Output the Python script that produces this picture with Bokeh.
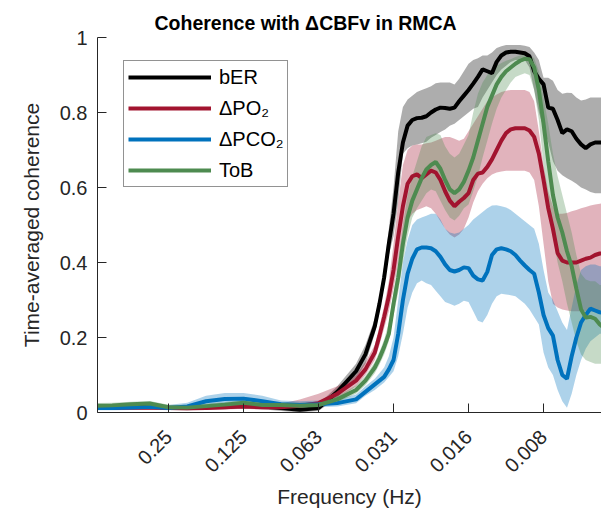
import math
from bokeh.plotting import figure
from bokeh.models import Range1d, FixedTicker, Legend, LegendItem
from bokeh.embed import file_html
from bokeh.resources import INLINE

# x positions, in octaves below 1 Hz (f = 2**-octave)
octave = [1.0, 1.25, 1.5, 1.75, 2.0, 2.25, 2.5, 2.75, 3.0, 3.25, 3.5, 3.75, 4.0, 4.25, 4.5, 4.625,
          4.75, 4.8125, 4.875, 4.9375,
          5.0, 5.0625, 5.125, 5.1875, 5.25, 5.3125, 5.375, 5.4375, 5.5, 5.5625, 5.625, 5.6875, 5.75, 5.8125, 5.875, 5.9375,
          6.0, 6.0625, 6.125, 6.1875, 6.25, 6.3125, 6.375, 6.4375, 6.5, 6.5625, 6.625, 6.6875, 6.75, 6.8125, 6.875, 6.9375,
          7.0, 7.0625, 7.125, 7.1875, 7.25, 7.3125, 7.375, 7.4375, 7.5, 7.5625, 7.625, 7.6875, 7.75, 7.8125]
freq_hz = [2.0 ** -o for o in octave]

ber_mean = [0.015, 0.015, 0.016, 0.016, 0.013, 0.012, 0.014, 0.016, 0.020, 0.016, 0.012, 0.007, 0.012, 0.055, 0.110, 0.155,
            0.23, 0.29, 0.36, 0.45,
            0.53, 0.64, 0.72, 0.765, 0.78, 0.785, 0.786, 0.79, 0.80, 0.808, 0.813, 0.812, 0.81, 0.813, 0.83, 0.845,
            0.86, 0.877, 0.895, 0.915, 0.91, 0.905, 0.935, 0.952, 0.96, 0.962, 0.962, 0.96, 0.958, 0.95, 0.91, 0.89,
            0.875, 0.813, 0.81, 0.78, 0.745, 0.755, 0.75, 0.73, 0.715, 0.705, 0.715, 0.72, 0.72, 0.72]
ber_lo = [0.009, 0.009, 0.010, 0.010, 0.007, 0.006, 0.008, 0.009, 0.012, 0.009, 0.004, 0.000, 0.004, 0.040, 0.090, 0.130,
          0.21, 0.27, 0.34, 0.42,
          0.47, 0.56, 0.69, 0.705, 0.712, 0.715, 0.718, 0.722, 0.733, 0.74, 0.748, 0.755, 0.765, 0.77, 0.78, 0.79,
          0.80, 0.81, 0.815, 0.84, 0.86, 0.88, 0.90, 0.915, 0.925, 0.935, 0.94, 0.94, 0.94, 0.92, 0.86, 0.80,
          0.76, 0.72, 0.67, 0.645, 0.633, 0.625, 0.618, 0.61, 0.60, 0.595, 0.588, 0.585, 0.585, 0.585]
ber_hi = [0.021, 0.021, 0.022, 0.022, 0.019, 0.018, 0.020, 0.023, 0.028, 0.023, 0.020, 0.015, 0.022, 0.070, 0.130, 0.180,
          0.25, 0.31, 0.39, 0.49,
          0.60, 0.75, 0.815, 0.835, 0.845, 0.855, 0.86, 0.865, 0.87, 0.878, 0.88, 0.88, 0.88, 0.875, 0.89, 0.91,
          0.93, 0.94, 0.945, 0.952, 0.952, 0.96, 0.972, 0.977, 0.98, 0.98, 0.98, 0.98, 0.978, 0.975, 0.96, 0.94,
          0.893, 0.893, 0.885, 0.86, 0.85, 0.853, 0.852, 0.84, 0.832, 0.835, 0.84, 0.84, 0.84, 0.84]

po2_mean = [0.012, 0.012, 0.013, 0.013, 0.012, 0.011, 0.012, 0.014, 0.016, 0.014, 0.014, 0.018, 0.025, 0.050, 0.085, 0.115,
            0.16, 0.205, 0.255, 0.31,
            0.38, 0.47, 0.55, 0.61, 0.63, 0.635, 0.625, 0.635, 0.645, 0.64, 0.62, 0.59, 0.565, 0.55, 0.562, 0.572,
            0.585, 0.62, 0.637, 0.64, 0.655, 0.675, 0.70, 0.725, 0.745, 0.755, 0.758, 0.758, 0.758, 0.752, 0.735, 0.69,
            0.62, 0.545, 0.49, 0.425, 0.405, 0.40, 0.40, 0.40, 0.405, 0.41, 0.413, 0.42, 0.424, 0.425]
po2_lo = [0.007, 0.007, 0.008, 0.008, 0.007, 0.006, 0.007, 0.008, 0.010, 0.008, 0.008, 0.008, 0.012, 0.035, 0.070, 0.100,
          0.14, 0.18, 0.225, 0.27,
          0.33, 0.40, 0.47, 0.51, 0.53, 0.54, 0.545, 0.55, 0.545, 0.53, 0.51, 0.49, 0.475, 0.467, 0.475, 0.49,
          0.52, 0.56, 0.59, 0.61, 0.625, 0.635, 0.64, 0.643, 0.645, 0.645, 0.645, 0.645, 0.645, 0.64, 0.62, 0.55,
          0.45, 0.35, 0.29, 0.28, 0.275, 0.272, 0.27, 0.27, 0.27, 0.27, 0.27, 0.27, 0.27, 0.27]
po2_hi = [0.018, 0.018, 0.019, 0.019, 0.018, 0.017, 0.018, 0.020, 0.024, 0.022, 0.024, 0.035, 0.050, 0.070, 0.100, 0.135,
          0.18, 0.23, 0.285, 0.35,
          0.45, 0.56, 0.66, 0.70, 0.712, 0.715, 0.715, 0.718, 0.72, 0.725, 0.73, 0.735, 0.735, 0.73, 0.725, 0.73,
          0.75, 0.77, 0.79, 0.81, 0.83, 0.84, 0.848, 0.855, 0.858, 0.86, 0.86, 0.86, 0.86, 0.855, 0.83, 0.75,
          0.66, 0.59, 0.55, 0.53, 0.53, 0.532, 0.537, 0.54, 0.545, 0.548, 0.552, 0.555, 0.557, 0.558]

pco2_mean = [0.012, 0.012, 0.013, 0.015, 0.012, 0.016, 0.030, 0.036, 0.037, 0.030, 0.022, 0.020, 0.022, 0.025, 0.035, 0.055,
             0.075, 0.085, 0.095, 0.115,
             0.14, 0.21, 0.30, 0.37, 0.41, 0.435, 0.44, 0.44, 0.438, 0.43, 0.415, 0.395, 0.38, 0.376, 0.38, 0.387,
             0.385, 0.365, 0.355, 0.352, 0.375, 0.42, 0.435, 0.438, 0.435, 0.43, 0.42, 0.405, 0.392, 0.38, 0.37, 0.32,
             0.26, 0.225, 0.205, 0.14, 0.10, 0.09, 0.15, 0.20, 0.24, 0.26, 0.277, 0.272, 0.267, 0.265]
pco2_lo = [0.006, 0.006, 0.007, 0.008, 0.006, 0.009, 0.020, 0.024, 0.025, 0.020, 0.014, 0.012, 0.014, 0.016, 0.025, 0.045,
           0.06, 0.07, 0.08, 0.095,
           0.11, 0.15, 0.21, 0.28, 0.32, 0.345, 0.352, 0.345, 0.34, 0.325, 0.31, 0.295, 0.29, 0.285, 0.29, 0.298,
           0.295, 0.27, 0.245, 0.24, 0.26, 0.29, 0.31, 0.317, 0.315, 0.313, 0.31, 0.30, 0.29, 0.275, 0.255, 0.235,
           0.16, 0.12, 0.10, 0.06, 0.03, 0.013, 0.05, 0.10, 0.14, 0.17, 0.19, 0.20, 0.21, 0.21]
pco2_hi = [0.020, 0.020, 0.021, 0.023, 0.020, 0.026, 0.045, 0.052, 0.052, 0.045, 0.032, 0.030, 0.032, 0.035, 0.048, 0.070,
           0.09, 0.105, 0.12, 0.15,
           0.20, 0.30, 0.40, 0.46, 0.50, 0.515, 0.52, 0.525, 0.53, 0.53, 0.515, 0.49, 0.48, 0.477, 0.48, 0.49,
           0.50, 0.515, 0.525, 0.535, 0.545, 0.552, 0.553, 0.55, 0.547, 0.54, 0.53, 0.52, 0.51, 0.50, 0.49, 0.45,
           0.38, 0.32, 0.30, 0.27, 0.24, 0.22, 0.28, 0.34, 0.38, 0.39, 0.395, 0.395, 0.39, 0.39]

tob_mean = [0.018, 0.019, 0.022, 0.024, 0.014, 0.013, 0.017, 0.021, 0.026, 0.020, 0.020, 0.018, 0.020, 0.035, 0.060, 0.085,
            0.12, 0.145, 0.175, 0.21,
            0.29, 0.36, 0.45, 0.52, 0.565, 0.595, 0.625, 0.648, 0.66, 0.668, 0.65, 0.62, 0.595, 0.585, 0.595, 0.615,
            0.645, 0.68, 0.725, 0.77, 0.815, 0.845, 0.875, 0.895, 0.91, 0.92, 0.93, 0.938, 0.943, 0.942, 0.92, 0.86,
            0.77, 0.67, 0.58, 0.52, 0.48, 0.43, 0.39, 0.33, 0.275, 0.253, 0.255, 0.25, 0.235, 0.225]
tob_lo = [0.012, 0.013, 0.016, 0.018, 0.008, 0.007, 0.011, 0.015, 0.020, 0.014, 0.014, 0.012, 0.014, 0.027, 0.050, 0.073,
          0.105, 0.128, 0.155, 0.19,
          0.26, 0.32, 0.40, 0.47, 0.52, 0.545, 0.565, 0.585, 0.595, 0.59, 0.565, 0.54, 0.52, 0.512, 0.525, 0.545,
          0.555, 0.59, 0.63, 0.68, 0.725, 0.77, 0.81, 0.84, 0.86, 0.88, 0.895, 0.90, 0.905, 0.90, 0.86, 0.78,
          0.66, 0.56, 0.47, 0.40, 0.35, 0.29, 0.24, 0.19, 0.155, 0.14, 0.135, 0.13, 0.13, 0.13]
tob_hi = [0.025, 0.026, 0.029, 0.031, 0.021, 0.020, 0.024, 0.028, 0.034, 0.028, 0.028, 0.026, 0.028, 0.045, 0.072, 0.098,
          0.135, 0.162, 0.195, 0.24,
          0.32, 0.40, 0.50, 0.58, 0.63, 0.67, 0.71, 0.735, 0.74, 0.745, 0.74, 0.71, 0.69, 0.68, 0.69, 0.715,
          0.74, 0.80, 0.85, 0.88, 0.90, 0.915, 0.925, 0.932, 0.938, 0.942, 0.948, 0.952, 0.955, 0.955, 0.945, 0.91,
          0.84, 0.77, 0.69, 0.63, 0.58, 0.53, 0.48, 0.42, 0.37, 0.355, 0.35, 0.35, 0.34, 0.34]

series_labels = ["bER", "\u0394PO\u2082", "\u0394PCO\u2082", "ToB"]
x_ticks = [0.25, 0.125, 0.0625, 0.03125, 0.015625, 0.0078125]
x_tick_labels = ["0.25", "0.125", "0.063", "0.031", "0.016", "0.008"]
y_ticks = [0, 0.2, 0.4, 0.6, 0.8, 1]
y_tick_labels = ["0", "0.2", "0.4", "0.6", "0.8", "1"]

FONT = "Liberation Sans"
TXT = "#262626"

p = figure(width=601, height=511, x_axis_type="log",
           x_range=Range1d(0.4819, 0.004573), y_range=Range1d(0, 1),
           output_backend="svg", toolbar_location=None,
           min_border_left=97, min_border_right=0, min_border_top=37, min_border_bottom=99)
p.background_fill_color = "white"
p.outline_line_color = None
p.xgrid.visible = False
p.ygrid.visible = False

p.title.text = "Coherence with \u0394CBFv in RMCA"
p.title.text_font = FONT
p.title.text_font_size = "19.5px"
p.title.text_font_style = "bold"
p.title.text_color = "black"
p.title.align = "left"
p.title.offset = 57
p.title.standoff = 8

colors = ["#000000", "#A2142F", "#0072BD", "#4E8B50"]
means = [ber_mean, po2_mean, pco2_mean, tob_mean]
los = [ber_lo, po2_lo, pco2_lo, tob_lo]
his = [ber_hi, po2_hi, pco2_hi, tob_hi]

for c, lo, hi in zip(colors, los, his):
    p.varea(x=freq_hz, y1=lo, y2=hi, fill_color=c, fill_alpha=0.32)

line_renderers = []
for c, m in zip(colors, means):
    line_renderers.append(p.line(x=freq_hz, y=m, line_color=c, line_width=4))

xa = p.xaxis[0]
ya = p.yaxis[0]
xa.ticker = FixedTicker(ticks=x_ticks)
xa.major_label_overrides = dict(zip(x_ticks, x_tick_labels))
xa.major_label_orientation = math.pi / 4
ya.ticker = FixedTicker(ticks=y_ticks)
ya.major_label_overrides = dict(zip(y_ticks, y_tick_labels))
xa.axis_label = "Frequency (Hz)"
ya.axis_label = "Time-averaged coherence"
for ax in (xa, ya):
    ax.axis_line_color = TXT
    ax.axis_line_width = 1
    ax.major_tick_line_color = TXT
    ax.major_tick_in = 9
    ax.major_tick_out = 0
    ax.minor_tick_line_color = None
    ax.major_label_text_font = FONT
    ax.major_label_text_font_size = "20px"
    ax.major_label_text_color = TXT
    ax.axis_label_text_font = FONT
    ax.axis_label_text_font_size = "21px"
    ax.axis_label_text_font_style = "normal"
    ax.axis_label_text_color = TXT
ya.major_label_standoff = 10
ya.axis_label_standoff = 14
xa.major_label_standoff = 21
xa.axis_label_standoff = 3

legend = Legend(items=[LegendItem(label=l, renderers=[r]) for l, r in zip(series_labels, line_renderers)],
                location=(26, 225))
legend.border_line_color = TXT
legend.border_line_width = 1
legend.background_fill_alpha = 1
legend.padding = 4
legend.spacing = 7
legend.margin = 0
legend.glyph_width = 83
legend.glyph_height = 24
legend.label_height = 24
legend.label_standoff = 8
legend.label_text_font = FONT
legend.label_text_font_size = "20px"
legend.label_text_color = "black"
p.add_layout(legend)

open("out.html", "w").write(file_html(p, INLINE))
